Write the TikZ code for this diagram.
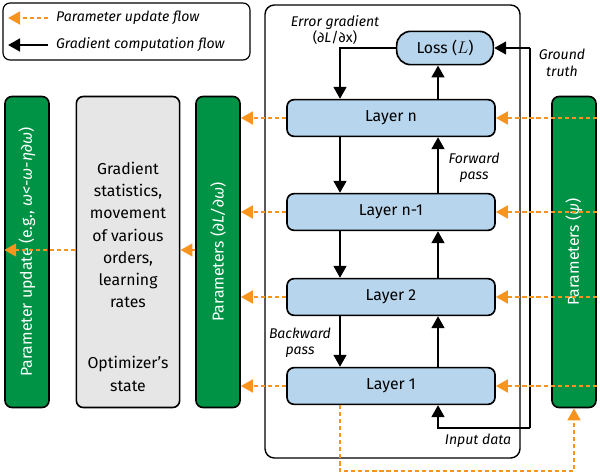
\documentclass[tikz,border=0pt]{standalone}
\usepackage{fontspec}
\setmainfont{Fira Sans}
\usetikzlibrary{arrows.meta, positioning, calc}
\definecolor{layerblue}{RGB}{183, 213, 236}
\definecolor{paramgreen}{RGB}{0, 146, 69}
\definecolor{stategray}{RGB}{230, 230, 230}
\definecolor{updorange}{RGB}{247, 148, 29}
\tikzset{
    layerbox/.style={rectangle, rounded corners=6pt, draw=black, line width=1.4pt, fill=layerblue,
                     minimum width=6.24cm, minimum height=1.1cm, font=\fontsize{13.5}{16}\selectfont},
    parambox/.style={rectangle, rounded corners=6pt, draw=black, line width=1.4pt, fill=paramgreen,
                     minimum width=9.33cm, minimum height=1.32cm, font=\fontsize{13.5}{16}\selectfont, text=white, rotate=90},
    gradarrow/.style={-{Triangle[length=3.6mm, width=3.8mm]}, line width=2.2pt},
    updarrow/.style={-{Triangle[length=3.6mm, width=3.8mm]}, line width=2.2pt, updorange, dash pattern=on 3.5pt off 2.5pt},
    note/.style={font=\fontsize{12}{14}\selectfont\itshape, align=center},
}
\begin{document}
\begin{tikzpicture}[x=0.03cm, y=-0.03cm]
            \useasboundingbox (0,0) rectangle (600,475);
            % legend and frame
            \draw[rounded corners=6pt, line width=1pt] (3,3) rectangle (250,60);
            \draw[rounded corners=8pt, line width=1.2pt] (265,5) rectangle (520,458);
            \coordinate (lgA) at (8,18);
            \coordinate (lgB) at (8,45);
            \draw[updarrow] ($(lgA)+(40,0)$) -- (lgA);
            \draw[gradarrow] ($(lgB)+(40,0)$) -- (lgB);
            \node[note, anchor=west] at (52,18) {Parameter update flow};
            \node[note, anchor=west] at (52,45) {Gradient computation flow};

            % network
            \node[layerbox, rounded corners=12pt, minimum width=2.9cm, minimum height=1cm] (loss) at (445,48) {Loss ($L$)};
            \node[layerbox] (ln) at (391,118) {Layer n};
            \node[layerbox] (lm) at (391,212) {Layer n-1};
            \node[layerbox] (l2) at (391,297) {Layer 2};
            \node[layerbox] (l1) at (391,386) {Layer 1};

            \node[parambox] (psi) at (574,252) {Parameters (\textit{ψ})};
            \node[parambox] (dw) at (218,252) {Parameters (\textit{∂L/∂ω})};
            \node[rectangle, rounded corners=6pt, draw=black, line width=1.4pt, fill=stategray,
                  minimum width=3.1cm, minimum height=9.33cm] (state) at (128,252) {};
            \node[font=\fontsize{13.5}{19}\selectfont, align=center] at (128,235) {Gradient\\statistics,\\movement\\of various\\orders,\\learning\\rates};
            \node[font=\fontsize{13.5}{19}\selectfont, align=center] at (128,374) {Optimizer’s\\state};
            \node[parambox] (upd) at (27,252) {Parameter update (e.g., \textit{ω<-ω-η∂ω})};

            % gradient computation
            \foreach \a/\b in {l1/l2, l2/lm, lm/ln} {
                \draw[gradarrow] ($(\a.north)+(47,0)$) -- ($(\b.south)+(47,0)$);
            }
            \foreach \a/\b in {ln/lm, lm/l2, l2/l1} {
                \draw[gradarrow] ($(\a.south)+(-51,0)$) -- ($(\b.north)+(-51,0)$);
            }
            \draw[gradarrow] ($(ln.north)+(47,0)$) -- (438,0 |- loss.south);
            \draw[gradarrow] (loss.west) -| ($(ln.north)+(-51,0)$);
            \coordinate (gt) at (530,48);
            \coordinate (inp) at (530,428);
            \draw[gradarrow] (gt) -- (loss.east);
            \draw[line width=2.2pt] (gt) -- (inp);
            \draw[gradarrow] (inp) -| ($(l1.south)+(47,0)$);

            % parameter updates
            \foreach \l in {ln, lm, l2, l1} {
                \draw[updarrow] (\l -| psi.south) -- (\l.east);
                \draw[updarrow] (\l.west) -- (\l -| dw.south);
            }
            \draw[updarrow] (dw.north |- 0,250) -- (state.east |- 0,250);
            \draw[updarrow] (state.west |- 0,250) -- (upd.north |- 0,250);
            \draw[updarrow] ($(l1.south)+(-51,0)$) -- ++(0,66) -| (psi.west);

            % labels
            \node[note] at (335,30) {Error gradient\\{\upshape(\textit{∂L}/∂x)}};
            \node[note] at (562,63) {Ground\\truth};
            \node[note] at (474,168) {Forward\\pass};
            \node[note] at (300,343) {Backward\\pass};
            \node[note] at (478,441) {Input data};
        \end{tikzpicture}
\end{document}
